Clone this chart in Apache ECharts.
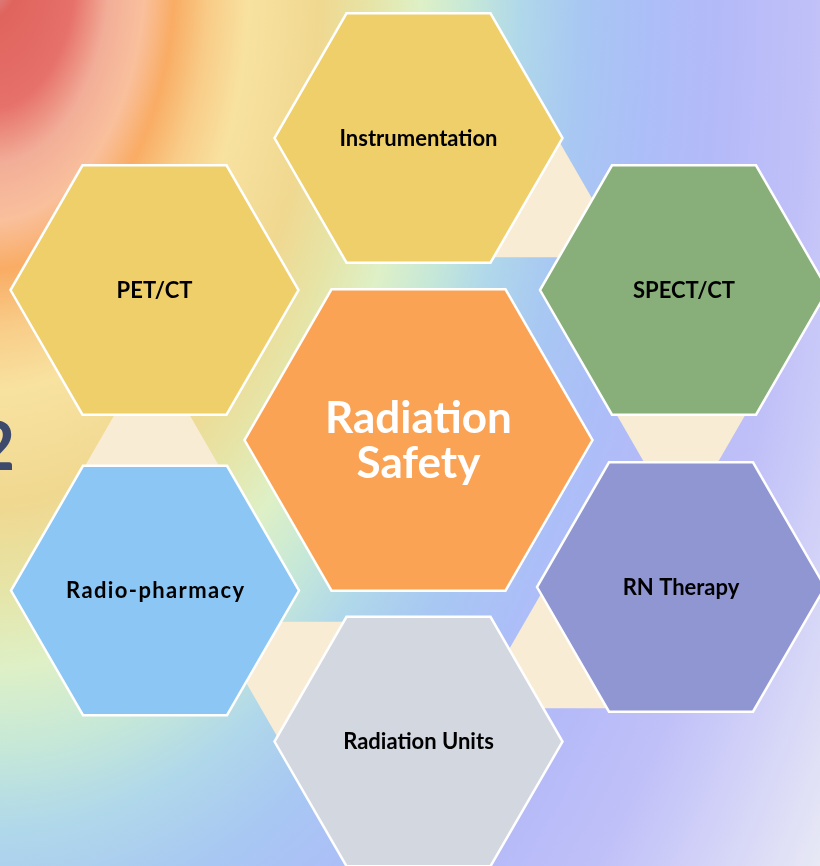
<!DOCTYPE html>
<html>
<head>
<meta charset="utf-8">
<script src="https://cdn.jsdelivr.net/npm/echarts@6/dist/echarts.min.js"></script>
<style>
  html, body { margin: 0; padding: 0; background: #ffffff; }
  #chart { width: 820px; height: 866px; }
</style>
</head>
<body>
<div id="chart"></div>
<script>
// ---------- data (diagram layout units) ----------
const hexLabels = ['Radiation\nSafety', 'Instrumentation', 'SPECT/CT', 'RN Therapy', 'Radiation Units', 'Radio-pharmacy', 'PET/CT'];
const hexX = [418.5, 418.5, 684, 681, 418.5, 155, 154.5];
const hexY = [440, 138, 290, 587, 741.5, 590.5, 290];

// connector triangles between neighbouring outer items (centroids)
const connectorX = [553, 681, 548, 284, 152];
const connectorY = [215, 442, 666, 664, 434];
const connectorUp = [true, false, true, false, true];

const sideNumber = '2';

// ---------- style ----------
const hexFill = ['#fba354', '#efcf6a', '#88af7a', '#8f96d2', '#d3d7df', '#8bc6f4', '#efcf6a'];
const labelSpaced = [false, false, false, false, false, true, false];
const CENTER_R = 174;
const OUTER_R = 144;
const TRI_R = 84.3;
const FONT = 'Lato, "Open Sans", sans-serif';

const chart = echarts.init(document.getElementById('chart'), null, { renderer: 'canvas' });

function renderHex(params, api) {
  const i = params.dataIndex;
  const c = api.coord([api.value(0), api.value(1)]);
  const s = api.size([1, 1]);
  const sx = Math.abs(s[0]), sy = Math.abs(s[1]);
  const R = i === 0 ? CENTER_R : OUTER_R;
  const pts = [];
  for (let k = 0; k < 6; k++) {
    const a = Math.PI / 3 * k;
    pts.push([c[0] + R * sx * Math.cos(a), c[1] + R * sy * Math.sin(a)]);
  }
  const isCenter = i === 0;
  const label = labelSpaced[i] ? hexLabels[i].split('').join('\u200A') : hexLabels[i];
  return {
    type: 'group',
    children: [
      {
        type: 'polygon',
        shape: { points: pts },
        style: { fill: hexFill[i], stroke: '#ffffff', lineWidth: 2.5 }
      },
      {
        type: 'text',
        style: {
          text: label,
          x: c[0],
          y: c[1] + (isCenter ? 1.5 : 0.5),
          align: 'center',
          verticalAlign: 'middle',
          fontFamily: FONT,
          fontWeight: 'bold',
          fontSize: isCenter ? 44 : 22,
          lineHeight: isCenter ? 45 : 26,
          fill: isCenter ? '#ffffff' : '#000000'
        }
      }
    ]
  };
}

function renderTri(params, api) {
  const i = params.dataIndex;
  const c = api.coord([api.value(0), api.value(1)]);
  const s = api.size([1, 1]);
  const sx = Math.abs(s[0]), sy = Math.abs(s[1]);
  const dir = connectorUp[i] ? -1 : 1;
  const pts = [];
  for (let k = 0; k < 3; k++) {
    const a = Math.PI / 2 * dir + k * 2 * Math.PI / 3;
    pts.push([c[0] + TRI_R * sx * Math.cos(a), c[1] + TRI_R * sy * Math.sin(a)]);
  }
  return {
    type: 'polygon',
    shape: { points: pts },
    style: { fill: '#f8ecd5' }
  };
}

const bgStops = [
  [0.00, '#d4a8ac'],
  [0.03, '#e0645e'],
  [0.085, '#e6706a'],
  [0.12, '#f2ae98'],
  [0.155, '#f9c09c'],
  [0.185, '#f9ac64'],
  [0.22, '#f8cc88'],
  [0.26, '#f8e2a0'],
  [0.33, '#f0d890'],
  [0.38, '#e6e4a6'],
  [0.43, '#def0c6'],
  [0.48, '#c6e8d8'],
  [0.53, '#b0d8ea'],
  [0.59, '#a8c8f2'],
  [0.66, '#acbef8'],
  [0.73, '#b4baf8'],
  [0.82, '#c0c0f8'],
  [0.90, '#d2d2f8'],
  [0.97, '#e2e2f6'],
  [1.00, '#e8eaf4']
].map(s => ({ offset: s[0], color: s[1] }));

const option = {
  animation: false,
  backgroundColor: '#e8eaf4',
  grid: { left: 0, right: 0, top: 0, bottom: 0 },
  xAxis: { type: 'value', min: 0, max: 820, show: false },
  yAxis: { type: 'value', min: 0, max: 866, inverse: true, show: false },
  graphic: [
    {
      type: 'rect',
      z: -100,
      silent: true,
      x: -10, y: -30,
      scaleX: 1, scaleY: 1.62,
      shape: { x: -1000, y: -1000, width: 2000, height: 2000 },
      style: {
        fill: { type: 'radial', x: 0.5, y: 0.5, r: 0.5, colorStops: bgStops }
      }
    },
    {
      type: 'text',
      z: -50,
      silent: true,
      x: 15, y: 449,
      style: {
        text: sideNumber,
        align: 'right',
        verticalAlign: 'middle',
        fontFamily: FONT,
        fontWeight: 'bold',
        fontSize: 66,
        fill: '#3e4a6c'
      }
    }
  ],
  series: [
    {
      type: 'custom',
      z: 2,
      silent: true,
      renderItem: renderTri,
      data: connectorX.map((x, i) => [x, connectorY[i]])
    },
    {
      type: 'custom',
      z: 3,
      silent: true,
      renderItem: renderHex,
      data: hexX.map((x, i) => [x, hexY[i]])
    }
  ]
};
chart.setOption(option);
</script>
</body>
</html>
